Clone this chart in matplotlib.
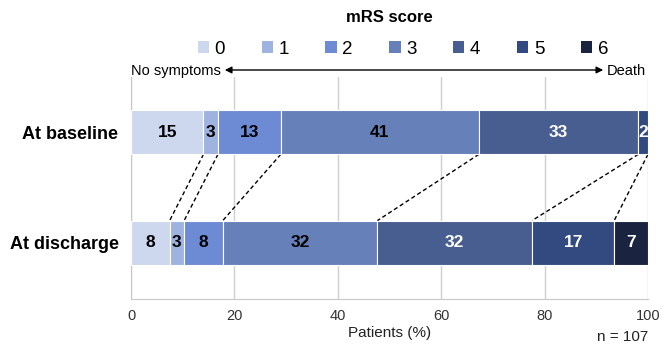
import numpy as np
import matplotlib.pyplot as plt
from matplotlib.patches import Patch, FancyArrowPatch

plt.rcParams['font.family'] = ['Liberation Sans', 'DejaVu Sans']

# mRS score counts (n = 107)
scores = ['0', '1', '2', '3', '4', '5', '6']
rows = ['At discharge', 'At baseline']
baseline = [15, 3, 13, 41, 33, 2, 0]
discharge = [8, 3, 8, 32, 32, 17, 7]
n_total = 107
colors = ['#cdd8ef', '#9fb3e0', '#6c8bd4', '#6680ba', '#485e90', '#324a80', '#1a2340']
label_colors = ['black', 'black', 'black', 'black', 'white', 'white', 'white']

fig = plt.figure(figsize=(6.71, 3.5), dpi=100)
ax = fig.add_axes([131/671, 1-299/350, (648-131)/671, (299-77)/350])

data = [discharge, baseline]
bar_h = 0.4
for yi, counts in enumerate(data):
    pct = np.array(counts) / n_total * 100
    left = 0
    for i, p in enumerate(pct):
        if counts[i] == 0:
            continue
        ax.barh(yi, p, left=left, height=bar_h, color=colors[i],
                edgecolor='white', linewidth=0.8, zorder=3)
        ax.text(left + p/2, yi, str(counts[i]), ha='center', va='center',
                fontsize=12.5, fontweight='bold', color=label_colors[i], zorder=4)
        left += p

# dashed connectors between category boundaries
cb = np.cumsum(baseline) / n_total * 100
cd = np.cumsum(discharge) / n_total * 100
for i in range(6):
    ax.plot([cb[i], cd[i]], [1 - bar_h/2, 0 + bar_h/2], ls=(0, (3, 2)),
            color='black', lw=1, zorder=2)

ax.set_xlim(0, 100)
ax.set_ylim(-0.51, 1.5)
ax.set_yticks([0, 1])
ax.set_yticklabels(rows, fontsize=13, fontweight='bold')
ax.set_xticks([0, 20, 40, 60, 80, 100])
ax.tick_params(axis='x', length=0, labelsize=10.5, labelcolor='#333333', pad=7)
ax.tick_params(axis='y', length=0, pad=9)
ax.grid(axis='x', color='#d0d0d0', lw=1, zorder=0)
for s in ['top', 'right']:
    ax.spines[s].set_visible(False)
for s in ['left', 'bottom']:
    ax.spines[s].set_color('#c8c8c8')
ax.set_xlabel('Patients (%)', fontsize=11, color='#222222', labelpad=2)

fig.text(648/671, 1-337/350, 'n = 107', ha='right', va='center', fontsize=11, color='#222222')

# legend
handles = [Patch(facecolor=c, edgecolor='none') for c in colors]
fig.legend(handles, scores, ncol=7, loc='center', bbox_to_anchor=(403/671, 1-49/350),
           frameon=False, fontsize=13.5, handlelength=0.6, handleheight=0.6,
           handletextpad=0.3, columnspacing=1.95)
fig.text(389/671, 1-18/350, 'mRS score', ha='center', va='center', fontsize=12, fontweight='bold')

# severity arrow
fig.patches.append(FancyArrowPatch(
    (222/671, 1-70/350), (606/671, 1-70/350), transform=fig.transFigure,
    arrowstyle='<|-|>', mutation_scale=10, color='black', lw=1))
fig.text(131/671, 1-71/350, 'No symptoms', ha='left', va='center', fontsize=10.5)
fig.text(646/671, 1-71/350, 'Death', ha='right', va='center', fontsize=10.5)

fig.savefig('out.png', dpi=100)
